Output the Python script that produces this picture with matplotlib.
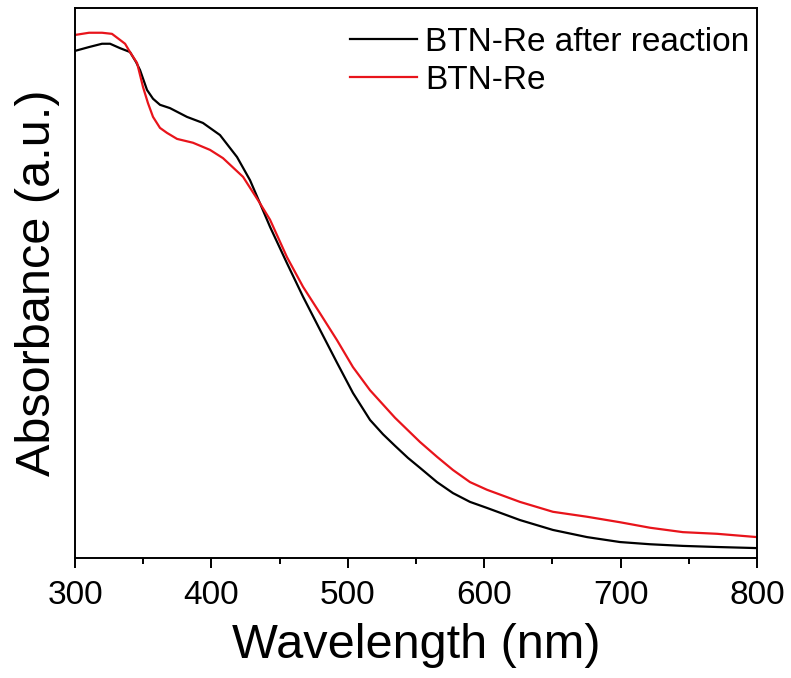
import numpy as np
import matplotlib
matplotlib.use("Agg")
import matplotlib.pyplot as plt

# Spectres UV-vis (unités arbitraires)
wl_after = [300, 310.3, 319.8, 325.7, 333.0, 340.3, 344.7, 347.7, 352.8, 357.2,
            362.3, 369.6, 382.1, 393.8, 406.3, 418.8, 428.3, 435.6, 443.0, 455.4,
            467.2, 479.6, 492.1, 503.8, 516.3, 525.8, 534.6, 544.1, 552.9, 565.4,
            577.1, 589.6, 602.1, 626.2, 650.4, 675.4, 699.6, 721.6, 745.7, 770.7,
            800]
abs_after = [0.922, 0.929, 0.935, 0.935, 0.927, 0.920, 0.902, 0.887, 0.851, 0.835,
             0.824, 0.818, 0.802, 0.791, 0.769, 0.729, 0.687, 0.645, 0.602, 0.536,
             0.475, 0.415, 0.355, 0.300, 0.251, 0.225, 0.204, 0.182, 0.164, 0.138,
             0.118, 0.102, 0.091, 0.069, 0.051, 0.038, 0.029, 0.025, 0.022, 0.020,
             0.018]

wl_btn = [300, 310.3, 319.8, 327.1, 333.0, 336.7, 340.3, 345.5, 349.9, 353.5,
          357.2, 362.3, 367.4, 374.8, 386.5, 399.0, 408.5, 423.2, 435.6, 443.0,
          455.4, 467.2, 479.6, 492.1, 503.8, 516.3, 534.6, 552.9, 565.4, 577.1,
          589.6, 602.1, 626.2, 650.4, 675.4, 699.6, 721.6, 745.7, 770.7, 800]
abs_btn = [0.951, 0.955, 0.955, 0.953, 0.942, 0.935, 0.920, 0.900, 0.856, 0.827,
           0.802, 0.782, 0.773, 0.762, 0.755, 0.742, 0.727, 0.693, 0.645, 0.615,
           0.547, 0.493, 0.445, 0.396, 0.347, 0.305, 0.255, 0.211, 0.184, 0.160,
           0.138, 0.124, 0.102, 0.084, 0.075, 0.065, 0.055, 0.047, 0.044, 0.038]

plt.rcParams['font.family'] = ['Liberation Sans', 'DejaVu Sans']

fig = plt.figure(figsize=(7.91, 6.78), dpi=100)
ax = fig.add_axes([75 / 791, 1 - 558 / 678, 682 / 791, 550 / 678])

ax.plot(wl_after, abs_after, '-', color='black', lw=1.6,
        label='BTN-Re after reaction')
ax.plot(wl_btn, abs_btn, '-', color='#e8141b', lw=1.6, label='BTN-Re')

ax.set_xlim(300, 800)
ax.set_ylim(0, 1)
ax.set_xticks([300, 400, 500, 600, 700, 800])
ax.set_xticks(np.arange(350, 800, 100), minor=True)
ax.set_yticks([])
ax.tick_params(axis='x', which='major', direction='out', length=7.2,
               width=1.4, labelsize=24, pad=9)
ax.tick_params(axis='x', which='minor', direction='out', length=4.3,
               width=1.4)
for s in ax.spines.values():
    s.set_linewidth(1.4)

ax.set_xlabel('Wavelength (nm)', fontsize=35, labelpad=8)
ax.set_ylabel('Absorbance (a.u.)', fontsize=35, labelpad=11)

ax.legend(loc='upper left', bbox_to_anchor=(350 / 791, 1 - 27 / 678),
          bbox_transform=fig.transFigure, frameon=False, fontsize=24,
          borderpad=0, borderaxespad=0, handlelength=2.0,
          handletextpad=0.25, labelspacing=0.2)

fig.savefig('out.png', dpi=100)
